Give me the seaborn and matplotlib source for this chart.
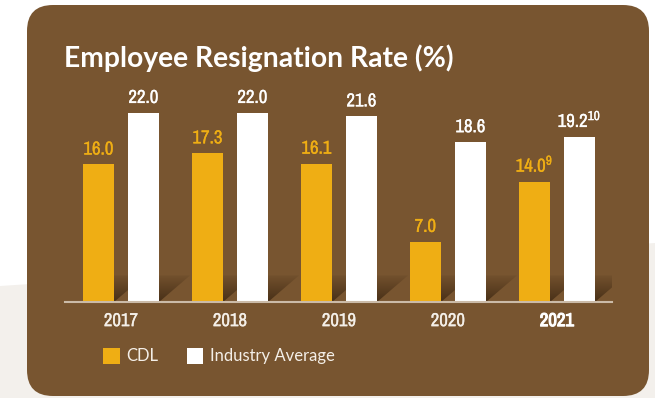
import matplotlib
matplotlib.use("Agg")
import matplotlib.pyplot as plt
from matplotlib import font_manager as fm
from matplotlib import patheffects as pe
from matplotlib.patches import FancyBboxPatch, Polygon, Patch
from matplotlib.colors import LinearSegmentedColormap
import numpy as np
import pandas as pd
import seaborn as sns

# --- data -------------------------------------------------------------
years = ["2017", "2018", "2019", "2020", "2021"]
cdl_rate = [16.0, 17.3, 16.1, 7.0, 14.0]
industry_rate = [22.0, 22.0, 21.6, 18.6, 19.2]
cdl_notes = ["", "", "", "", "9"]
industry_notes = ["", "", "", "", "10"]
series_names = ["CDL", "Industry Average"]

# --- style ------------------------------------------------------------
BROWN = "#785530"
GOLD = "#EFAE14"
WHITE = "#FFFFFF"
BASELINE = "#cbbba8"

sns.set_theme(style="white")
plt.rcParams["font.family"] = ["DejaVu Sans"]
plt.rcParams["mathtext.default"] = "regular"

# pick a narrow face for the figures, if one is installed
def narrow_font():
    fonts = fm.fontManager.ttflist
    for key in ("Narrow", "Condensed"):
        for f in fonts:
            if key in f.name:
                return {"family": [f.name, "DejaVu Sans"]}
    for f in fonts:
        if str(f.stretch) in ("condensed", "semi-condensed", "75", "87"):
            return {"family": [f.name, "DejaVu Sans"], "stretch": f.stretch}
    return {"family": ["Roboto", "DejaVu Sans"]}

NARROW = narrow_font()

def heavier(color, lw=0.2):
    return [pe.withStroke(linewidth=lw, foreground=color)]

W, H = 655, 398
fig = plt.figure(figsize=(W / 100, H / 100), dpi=100)
fig.patch.set_facecolor("white")

# background layer in pixel units
bg = fig.add_axes([0, 0, 1, 1])
bg.set_xlim(0, W)
bg.set_ylim(H, 0)
bg.axis("off")
bg.add_patch(Polygon([(0, 286), (W, 243), (W, H), (0, H)], closed=True,
                     facecolor="#f3f0ec", edgecolor="none"))
bg.add_patch(FancyBboxPatch((27 + 26, 5 + 26), 622 - 52, 391 - 52,
                            boxstyle="round,pad=26", facecolor=BROWN,
                            edgecolor="none"))

bg.text(64, 58, "Employee Resignation Rate (%)", color="white",
        fontsize=20.3, fontweight="bold", family=["Lato", "DejaVu Sans"],
        va="center", ha="left")

# --- bars -------------------------------------------------------------
df = pd.DataFrame({
    "year": years * 2,
    "rate": cdl_rate + industry_rate,
    "series": [series_names[0]] * len(years) + [series_names[1]] * len(years),
})

ax = fig.add_axes([65 / W, 1 - 302 / H, (612 - 65) / W, 202 / H])
ax.patch.set_alpha(0)
sns.barplot(data=df, x="year", y="rate", hue="series",
            palette=[GOLD, WHITE], width=0.826, gap=0.31, saturation=1,
            edgecolor="none", linewidth=0, ax=ax, legend=False, zorder=3)

# floor shadows cast back-right from each bar
shade_h = 3.1
grad = np.linspace(0, 1, 64).reshape(-1, 1)
shade_cmap = LinearSegmentedColormap.from_list(
    "shade", [(0.22, 0.14, 0.06, 0.75), (0.22, 0.14, 0.06, 0.08)])
for bar in list(ax.patches):
    x0, w = bar.get_x(), bar.get_width()
    poly = Polygon([(x0, 0), (x0 + w, 0), (x0 + 2 * w, shade_h),
                    (x0 + w, shade_h)], closed=True, facecolor="none",
                   edgecolor="none")
    ax.add_patch(poly)
    im = ax.imshow(grad, extent=(x0, x0 + 2 * w, 0, shade_h), origin="lower",
                   cmap=shade_cmap, aspect="auto", zorder=1)
    im.set_clip_path(poly)
ax.set_xlim(-0.514, 4.505)
ax.set_ylim(0, 23.5)

# value labels
for bars, vals, notes, col in [(ax.containers[0], cdl_rate, cdl_notes, GOLD),
                               (ax.containers[1], industry_rate, industry_notes, WHITE)]:
    for b, v, n in zip(bars, vals, notes):
        label = f"{v:.1f}" + (f"$^{{{n}}}$" if n else "")
        ax.annotate(label, (b.get_x() + b.get_width() / 2, v),
                    xytext=(0, 5), textcoords="offset points",
                    ha="center", va="bottom", color=col, fontsize=13.5,
                    path_effects=heavier(col), **NARROW)

# axes styling
for s in ["top", "right", "left"]:
    ax.spines[s].set_visible(False)
ax.spines["bottom"].set_color(BASELINE)
ax.spines["bottom"].set_linewidth(1.5)
ax.spines["bottom"].set_zorder(4)
ax.set_yticks([])
ax.set_xlabel("")
ax.set_ylabel("")
ax.tick_params(axis="x", length=0, pad=8)
for t in ax.get_xticklabels():
    t.set_fontsize(13.5)
    t.set_color("#f4efe8")
    t.set_fontfamily(NARROW["family"])
    if "stretch" in NARROW:
        t.set_fontstretch(NARROW["stretch"])
    t.set_path_effects(heavier("#f4efe8"))
    if t.get_text() == years[-1]:
        t.set_fontweight("bold")
        t.set_color("white")
        t.set_path_effects(heavier("white", 0.8))

handles = [Patch(facecolor=GOLD, edgecolor="none"),
           Patch(facecolor=WHITE, edgecolor="none")]
leg = bg.legend(handles, series_names, loc="center left",
                bbox_to_anchor=(88 / W, 1 - 356 / H), frameon=False, ncol=2,
                handlelength=1.0, handleheight=1.1, handletextpad=0.4,
                columnspacing=1.7,
                prop={"family": ["Lato", "DejaVu Sans"], "size": 12})
for t in leg.get_texts():
    t.set_color("#f4efe8")

fig.savefig("out.png", dpi=100, facecolor=fig.get_facecolor())
